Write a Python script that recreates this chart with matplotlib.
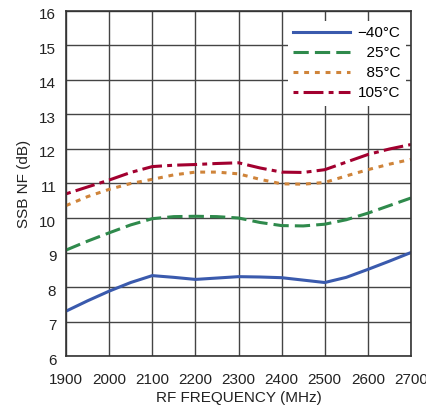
import matplotlib
matplotlib.use("Agg")
from matplotlib import pyplot as plt
from matplotlib.transforms import ScaledTranslation

plt.rcParams['font.family'] = ['Liberation Sans', 'DejaVu Sans']

freq = [1900, 1950, 2000, 2050, 2100, 2150, 2200, 2250, 2300,
        2350, 2400, 2450, 2500, 2550, 2600, 2650, 2700]
nf_m40 = [7.30, 7.60, 7.88, 8.13, 8.33, 8.28, 8.22, 8.26, 8.30,
          8.29, 8.27, 8.20, 8.13, 8.28, 8.51, 8.75, 9.00]
nf_25 = [9.07, 9.33, 9.57, 9.80, 9.98, 10.04, 10.05, 10.04, 10.00,
         9.87, 9.78, 9.77, 9.82, 9.95, 10.14, 10.36, 10.58]
nf_85 = [10.36, 10.62, 10.83, 11.00, 11.12, 11.25, 11.33, 11.33, 11.28,
         11.12, 10.99, 10.98, 11.03, 11.22, 11.40, 11.56, 11.70]
nf_105 = [10.70, 10.90, 11.10, 11.32, 11.49, 11.53, 11.55, 11.58, 11.60,
          11.45, 11.33, 11.32, 11.40, 11.62, 11.84, 12.00, 12.13]

labels = ['\u221240\u00b0C', '\u200725\u00b0C', '\u200785\u00b0C', '105\u00b0C']
xticks = [1900, 2000, 2100, 2200, 2300, 2400, 2500, 2600, 2700]
yticks = [6, 7, 8, 9, 10, 11, 12, 13, 14, 15, 16]

fig = plt.figure(figsize=(4.27, 4.16), dpi=100)
ax = fig.add_axes([0.1546, 0.1442, 0.8079, 0.8294])

ax.plot(freq, nf_m40, color='#3a5aad', lw=2.2, ls='-', label=labels[0])
ax.plot(freq, nf_25, color='#2f8a4c', lw=2.2, ls=(0, (5, 2)), label=labels[1])
ax.plot(freq, nf_85, color='#cf843a', lw=2.2, ls=(0, (1.6, 1.9)), label=labels[2])
ax.plot(freq, nf_105, color='#a2002f', lw=2.2, ls=(0, (1.6, 1.7, 6.5, 1.7)), label=labels[3])

ax.set_xlim(1900, 2700)
ax.set_ylim(6, 16)
ax.set_xticks(xticks)
ax.set_yticks(yticks)
ax.grid(True, color='#444444', lw=1)
ax.set_axisbelow(True)
ax.tick_params(axis='x', length=0, labelsize=11, pad=12, colors='#222222')
ax.tick_params(axis='y', length=0, labelsize=11, pad=7, colors='#222222')
# y labels sit a little below their gridlines
for lab in ax.get_yticklabels():
    lab.set_transform(lab.get_transform() + ScaledTranslation(0, -0.03, fig.dpi_scale_trans))
for s in ax.spines.values():
    s.set_color('#333333')
    s.set_linewidth(1.2)

ax.set_xlabel('RF FREQUENCY (MHz)', fontsize=11, color='#222222', labelpad=3)
ax.set_ylabel('SSB NF (dB)', fontsize=11, color='#222222', labelpad=6)

leg = ax.legend(loc='upper right', bbox_to_anchor=(0.985, 0.972), frameon=True,
                fontsize=11, handlelength=3.7, borderaxespad=0, borderpad=0.35,
                labelspacing=0.40, handletextpad=0.5, fancybox=False)
leg.get_frame().set_edgecolor('white')
leg.get_frame().set_facecolor('white')
leg.get_frame().set_alpha(1)
leg.get_frame().set_linewidth(0)

fig.savefig('out.png', dpi=100)
